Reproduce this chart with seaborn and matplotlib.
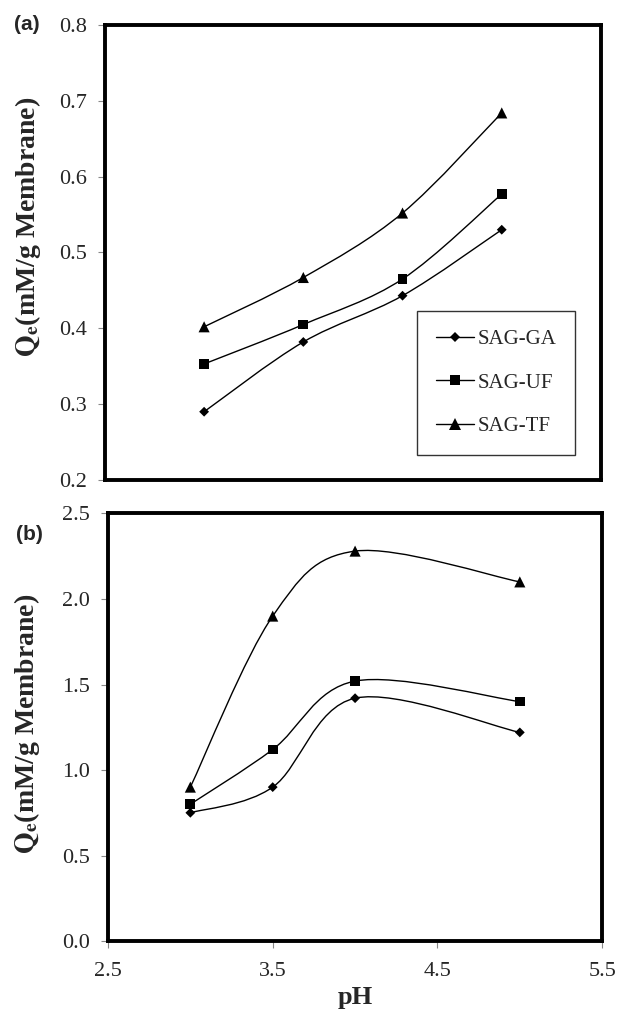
import numpy as np
import pandas as pd
import seaborn as sns
import matplotlib
matplotlib.use("Agg")
import matplotlib.pyplot as plt
from matplotlib.path import Path
from matplotlib.patches import PathPatch
from matplotlib.lines import Line2D

# data
series = ["SAG-GA", "SAG-UF", "SAG-TF"]
markers = {"SAG-GA": "D", "SAG-UF": "s", "SAG-TF": "^"}
msizes = {"SAG-GA": 5, "SAG-UF": 7, "SAG-TF": 8}

ph_a = [3.1, 3.7, 4.3, 4.9]
qa_ga = [0.290, 0.382, 0.443, 0.530]
qa_uf = [0.353, 0.405, 0.465, 0.577]
qa_tf = [0.402, 0.467, 0.552, 0.684]

ph_b = [3.0, 3.5, 4.0, 5.0]
qb_ga = [0.75, 0.90, 1.42, 1.22]
qb_uf = [0.80, 1.12, 1.52, 1.40]
qb_tf = [0.90, 1.90, 2.28, 2.10]


def to_frame(x, ys):
    rows = []
    for name, y in zip(series, ys):
        for xi, yi in zip(x, y):
            rows.append({"pH": xi, "Qe": yi, "series": name})
    return pd.DataFrame(rows)


df_a = to_frame(ph_a, [qa_ga, qa_uf, qa_tf])
df_b = to_frame(ph_b, [qb_ga, qb_uf, qb_tf])


def smooth_path(ax, x, y):
    # Excel-style smoothed line as cubic Bezier segments through the points
    p = np.column_stack([x, y]).astype(float)
    n = len(p)
    verts = [p[0]]
    codes = [Path.MOVETO]
    for i in range(n - 1):
        p0 = p[i - 1] if i > 0 else p[i]
        p3 = p[i + 2] if i + 2 < n else p[i + 1]
        c1 = p[i] + (p[i + 1] - p0) / 6.0
        c2 = p[i + 1] - (p3 - p[i]) / 6.0
        verts += [c1, c2, p[i + 1]]
        codes += [Path.CURVE4] * 3
    ax.add_patch(PathPatch(Path(verts, codes), fc="none", ec="black", lw=1.0, zorder=2))


sns.set_style("white")
plt.rcParams["font.family"] = ["Liberation Serif", "DejaVu Serif"]
plt.rcParams["mathtext.fontset"] = "stix"

fig = plt.figure(figsize=(6.17, 10.18), dpi=100)
ax_a = fig.add_axes([0.170, 0.5285, 0.804, 0.447])
ax_b = fig.add_axes([0.175, 0.0756, 0.801, 0.420])

for ax, df, lims, ticks in [
    (ax_a, df_a, (0.2, 0.8), np.arange(0.2, 0.81, 0.1)),
    (ax_b, df_b, (0.0, 2.5), np.arange(0.0, 2.51, 0.5)),
]:
    for name in series:
        sub = df[df["series"] == name]
        smooth_path(ax, sub["pH"].values, sub["Qe"].values)
    sns.scatterplot(data=df, x="pH", y="Qe", style="series", markers=markers,
                    hue="series", palette=["black"] * 3, size="series",
                    sizes={k: v ** 2 for k, v in msizes.items()},
                    edgecolor="black", linewidth=0, legend=False, ax=ax, zorder=3)
    ax.set_xlim(2.5, 5.5)
    ax.set_ylim(*lims)
    ax.set_yticks(ticks)
    ax.set_yticklabels([f"{t:.1f}" for t in ticks], fontsize=16)
    for sp in ax.spines.values():
        sp.set_visible(True)
        sp.set_color("black")
        sp.set_linewidth(2.8)
    ax.tick_params(axis="y", left=True, length=5, width=0.8, color="#888888", pad=8)
    ax.set_ylabel(r"$\mathbf{Q_e}$(mM/g Membrane)", fontsize=20, fontweight="bold")
    ax.yaxis.label.set_va("center")

ax_a.set_xticks([])
ax_a.set_xlabel("")
ax_a.yaxis.set_label_coords(-0.155, 0.556)

ax_b.set_xticks([2.5, 3.5, 4.5, 5.5])
ax_b.set_xticklabels(["2.5", "3.5", "4.5", "5.5"], fontsize=16)
ax_b.tick_params(axis="x", bottom=True, length=5, width=0.8, color="#888888", pad=10)
ax_b.set_xlabel("pH", fontsize=19, fontweight="bold", labelpad=4)
ax_b.yaxis.set_label_coords(-0.164, 0.507)

handles = [Line2D([], [], color="black", lw=1.0, marker=markers[s],
                  markersize=msizes[s], markeredgewidth=0) for s in series]
leg = ax_a.legend(handles, series, loc="upper left", bbox_to_anchor=(0.63, 0.372),
                  fontsize=15, frameon=True, fancybox=False,
                  handlelength=1.8, handletextpad=0.2, labelspacing=1.15,
                  borderpad=0.9, borderaxespad=0)
leg.get_frame().set_edgecolor("black")
leg.get_frame().set_linewidth(1.0)

fig.text(14 / 617, 1 - 25 / 1018, "(a)", fontsize=15, fontweight="bold",
         family=["Liberation Sans", "DejaVu Sans"], ha="left", va="center")
fig.text(16 / 617, 1 - 534 / 1018, "(b)", fontsize=15, fontweight="bold",
         family=["Liberation Sans", "DejaVu Sans"], ha="left", va="center")

fig.savefig("out.png", dpi=100)
